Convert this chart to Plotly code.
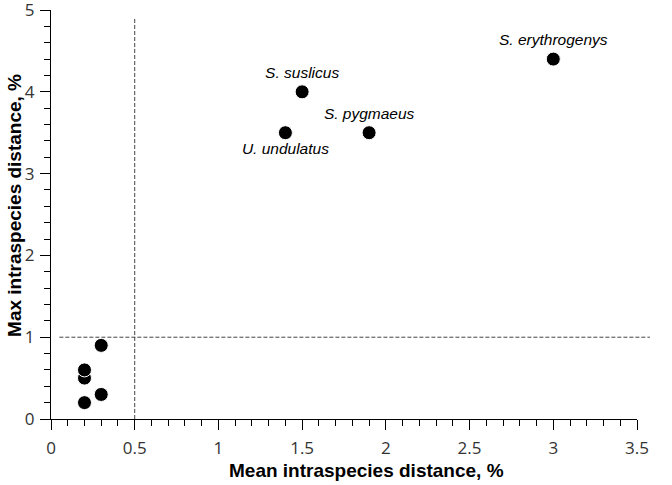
import plotly.graph_objects as go

mean_dist = [0.2, 0.2, 0.2, 0.3, 0.3, 1.4, 1.5, 1.9, 3.0]
max_dist = [0.2, 0.5, 0.6, 0.3, 0.9, 3.5, 4.0, 3.5, 4.4]
labels = ["", "", "", "", "", "U. undulatus", "S. suslicus", "S. pygmaeus", "S. erythrogenys"]
label_pos = ["top center"] * 5 + ["bottom center", "top center", "top center", "top center"]

x_ticks = [0, 0.5, 1, 1.5, 2, 2.5, 3, 3.5]
x_ticktext = ["0", "0.5", "1", "1.5", "2", "2.5", "3", "3.5"]
y_ticks = [0, 1, 2, 3, 4, 5]
y_ticktext = ["0", "1", "2", "3", "4", "5"]

x_threshold = 0.5
y_threshold = 1.0

fig = go.Figure()
fig.add_trace(go.Scatter(
    x=mean_dist, y=max_dist, mode="markers+text",
    text=labels, textposition=label_pos,
    textfont=dict(family="Liberation Sans", size=15.5, color="black", style="italic"),
    marker=dict(color="black", size=14, line=dict(color="white", width=1)),
    showlegend=False, cliponaxis=False,
))

fig.add_shape(type="line", x0=x_threshold, x1=x_threshold, y0=0, y1=4.9,
              xref="x", yref="y", line=dict(color="#444", width=1, dash="4px,2px"), layer="below")
fig.add_shape(type="line", x0=0.0143, x1=1.022, y0=y_threshold, y1=y_threshold,
              xref="paper", yref="y", line=dict(color="#444", width=1, dash="4px,2px"), layer="below")

axis_common = dict(
    showgrid=False, zeroline=False, showline=True, linecolor="black", linewidth=1,
    ticks="outside", ticklen=10, tickcolor="black", tickwidth=1, automargin=False,
    ticklabeloverflow="allow",
    tickfont=dict(family="Open Sans", size=17, color="#333"),
)

fig.update_xaxes(range=[0, 3.5], tickvals=x_ticks, ticktext=x_ticktext,
                 minor=dict(dtick=0.1, ticks="outside", ticklen=6, tickcolor="black"),
                 ticklabelstandoff=4, **axis_common)
fig.update_yaxes(range=[0, 5.0005], tickvals=y_ticks, ticktext=y_ticktext,
                 minor=dict(dtick=0.2, ticks="outside", ticklen=6, tickcolor="black"),
                 ticklabelstandoff=2, **axis_common)

title_font = dict(family="Liberation Sans", size=19, color="black", weight="bold")
fig.add_annotation(text="Mean intraspecies distance, %", xref="paper", yref="paper",
                   x=0.539, y=-0.127, xanchor="center", yanchor="middle",
                   showarrow=False, font=title_font)
fig.add_annotation(text="Max intraspecies distance, %", xref="paper", yref="paper",
                   x=-0.0614, y=0.521, xanchor="center", yanchor="middle",
                   textangle=-90, showarrow=False, font=title_font)

fig.update_layout(
    width=672, height=485,
    margin=dict(l=51, r=35, t=10, b=66),
    plot_bgcolor="white", paper_bgcolor="white",
)

fig.write_html("out.html", config={"displayModeBar": False},
               post_script="document.body.style.margin='0';")
